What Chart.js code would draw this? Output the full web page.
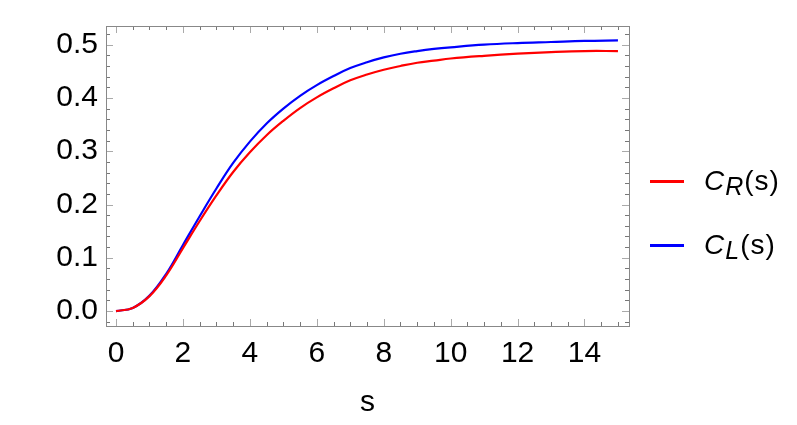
<!DOCTYPE html>
<html>
<head>
<meta charset="utf-8">
<script src="https://cdn.jsdelivr.net/npm/chart.js@4/dist/chart.umd.min.js"></script>
<style>
    html, body { margin: 0; padding: 0; background: #fff; }
    #wrap { position: relative; width: 797px; height: 425px; }
    #legend { position: absolute; left: 650px; top: 160px; font-family: "Liberation Sans", Arial, sans-serif; font-size: 28px; color: #000; }
    .row { position: relative; height: 64px; }
    .swatch { position: absolute; left: 0; top: 20px; width: 34px; height: 3px; }
    .lbl { position: absolute; left: 54px; top: 0; line-height: 42px; white-space: nowrap; }
    .lbl sub { font-size: 25px; vertical-align: -5px; margin-left: 1px; }
    .lbl span { margin-left: 1px; letter-spacing: 1px; }
</style>
</head>
<body>
<div id="wrap">
    <canvas id="chart" width="797" height="425"></canvas>
    <div id="legend">
        <div class="row"><div class="swatch" style="background:#ff0000"></div><div class="lbl"><i>C</i><sub><i>R</i></sub><span>(s)</span></div></div>
        <div class="row"><div class="swatch" style="background:#0000ff"></div><div class="lbl"><i>C</i><sub><i>L</i></sub><span>(s)</span></div></div>
    </div>
</div>
<script>
// values
const sValues = [0, 0.5, 1, 1.5, 2, 2.5, 3, 3.5, 4, 4.5, 5, 5.5, 6, 6.5, 7, 7.5, 8, 8.5, 9, 9.5, 10, 11, 12, 13, 14, 15];
const cR = [0, 0.006, 0.028, 0.067, 0.118, 0.169, 0.217, 0.261, 0.298, 0.330, 0.357, 0.381, 0.401, 0.418, 0.433, 0.444, 0.453, 0.460, 0.466, 0.470, 0.474, 0.479, 0.483, 0.486, 0.488, 0.488];
const cL = [0, 0.006, 0.029, 0.070, 0.124, 0.178, 0.230, 0.278, 0.318, 0.352, 0.380, 0.404, 0.424, 0.441, 0.456, 0.467, 0.476, 0.483, 0.488, 0.492, 0.495, 0.500, 0.503, 0.505, 0.507, 0.508];
const xTicks = [0, 2, 4, 6, 8, 10, 12, 14];
const yTicks = [0, 0.1, 0.2, 0.3, 0.4, 0.5];

const FONT = '"Liberation Sans", Arial, sans-serif';

// Mathematica-style frame with inward ticks on all four sides
const framePlugin = {
    id: 'frame',
    afterDraw(chart) {
        const ctx = chart.ctx;
        const a = chart.chartArea;
        const xs = chart.scales.x, ys = chart.scales.y;
        ctx.save();
        ctx.lineWidth = 1;

        // minor ticks
        ctx.strokeStyle = '#777';
        ctx.beginPath();
        for (let v = -0.5; v <= 15.5; v += 0.5) {
            if (v % 2 === 0) continue;
            const px = Math.round(xs.getPixelForValue(v)) + 0.5;
            if (px < a.left || px > a.right) continue;
            ctx.moveTo(px, a.bottom); ctx.lineTo(px, a.bottom - 4);
            ctx.moveTo(px, a.top); ctx.lineTo(px, a.top + 4);
        }
        for (let i = -2; i <= 27; i++) {
            if (i % 5 === 0) continue;
            const py = Math.round(ys.getPixelForValue(i * 0.02)) + 0.5;
            if (py < a.top || py > a.bottom) continue;
            ctx.moveTo(a.left, py); ctx.lineTo(a.left + 4, py);
            ctx.moveTo(a.right, py); ctx.lineTo(a.right - 4, py);
        }
        ctx.stroke();

        // major ticks
        ctx.strokeStyle = '#aaa';
        ctx.beginPath();
        xTicks.forEach(v => {
            const px = Math.round(xs.getPixelForValue(v)) + 0.5;
            ctx.moveTo(px, a.bottom); ctx.lineTo(px, a.bottom - 7);
            ctx.moveTo(px, a.top); ctx.lineTo(px, a.top + 7);
        });
        yTicks.forEach(v => {
            const py = Math.round(ys.getPixelForValue(v)) + 0.5;
            ctx.moveTo(a.left, py); ctx.lineTo(a.left + 7, py);
            ctx.moveTo(a.right, py); ctx.lineTo(a.right - 7, py);
        });
        ctx.stroke();

        // frame
        ctx.strokeStyle = '#888';
        ctx.strokeRect(Math.round(a.left) + 0.5, Math.round(a.top) + 0.5, Math.round(a.right - a.left), Math.round(a.bottom - a.top));
        ctx.restore();
    }
};

new Chart(document.getElementById('chart'), {
    type: 'line',
    data: {
        datasets: [
            { label: 'C_R(s)', data: sValues.map((s, i) => ({ x: s, y: cR[i] })), borderColor: '#ff0000', borderWidth: 2.2, pointRadius: 0, tension: 0.4, fill: false },
            { label: 'C_L(s)', data: sValues.map((s, i) => ({ x: s, y: cL[i] })), borderColor: '#0000ff', borderWidth: 2.2, pointRadius: 0, tension: 0.4, fill: false }
        ]
    },
    options: {
        responsive: false,
        animation: false,
        layout: { padding: { left: 0, right: 168, top: 3, bottom: 0 } },
        plugins: { legend: { display: false }, tooltip: { enabled: false } },
        scales: {
            x: {
                type: 'linear', min: -0.3, max: 15.33,
                grid: { display: false, drawTicks: false },
                border: { display: false },
                afterBuildTicks: s => { s.ticks = xTicks.map(v => ({ value: v })); },
                afterFit: s => { s.height = 99; },
                ticks: { color: '#000', font: { family: FONT, size: 30 }, padding: 10, maxRotation: 0 },
                title: { display: true, text: 's', color: '#000', font: { family: FONT, size: 30 }, padding: { top: 10 } }
            },
            y: {
                type: 'linear', min: -0.028, max: 0.535,
                grid: { display: false, drawTicks: false },
                border: { display: false },
                afterBuildTicks: s => { s.ticks = yTicks.map(v => ({ value: v })); },
                afterFit: s => { s.width = 106; },
                ticks: { color: '#000', font: { family: FONT, size: 30 }, padding: 8, callback: v => v.toFixed(1) }
            }
        }
    },
    plugins: [framePlugin]
});
</script>
</body>
</html>
